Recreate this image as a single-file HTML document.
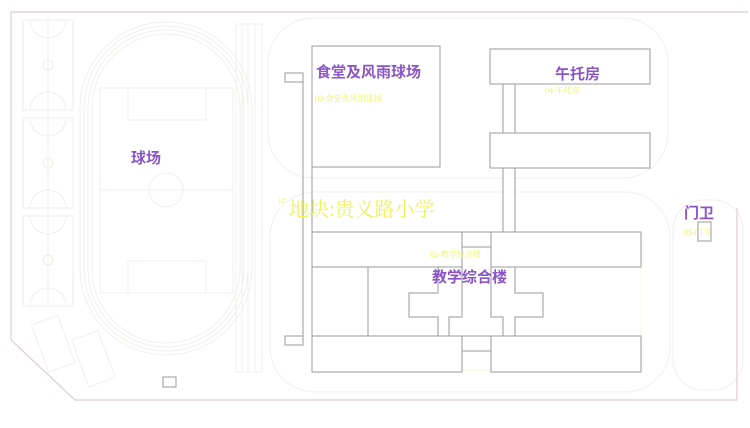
<!DOCTYPE html>
<html><head><meta charset="utf-8"><style>
body{margin:0;background:#fff;width:750px;height:428px;overflow:hidden}
svg{display:block}
.p{font-family:"Liberation Sans","Noto Sans CJK SC",sans-serif;font-weight:bold;fill:#8b55c8}
.y{font-family:"Liberation Serif","Noto Serif CJK SC",serif;fill:#eef25a}
</style></head><body>
<svg width="750" height="428" viewBox="0 0 750 428" xmlns="http://www.w3.org/2000/svg">
<g fill="none" stroke="#efede8" stroke-width="1">
<!-- basketball courts -->
<rect x="23" y="20" width="50" height="90"/><rect x="23" y="118" width="50" height="90"/><rect x="23" y="216" width="50" height="90"/>
<line x1="48" y1="20" x2="48" y2="306"/>
<circle cx="48" cy="65" r="5"/><circle cx="48" cy="163" r="5"/><circle cx="48" cy="260" r="5"/>
<path d="M30 20 a18 18 0 0 0 36 0 M30 110 a18 18 0 0 1 36 0 M30 118 a18 18 0 0 0 36 0 M30 208 a18 18 0 0 1 36 0 M30 216 a18 18 0 0 0 36 0 M30 306 a18 18 0 0 1 36 0"/>
</g>
<g fill="none" stroke="#f1efeb" stroke-width="1">
<!-- track -->
<rect x="80" y="22" width="172" height="333" rx="86"/>
<rect x="84" y="26" width="164" height="325" rx="82"/>
<rect x="88" y="30" width="156" height="317" rx="78"/>
<rect x="92" y="34" width="148" height="309" rx="74"/>
<rect x="100" y="88" width="133" height="205"/>
<line x1="100" y1="190" x2="233" y2="190"/><circle cx="166" cy="190" r="17"/>
<rect x="128" y="88" width="78" height="32"/><rect x="128" y="261" width="78" height="32"/>
<rect x="236" y="24" width="26" height="348"/><line x1="242" y1="24" x2="242" y2="372"/><line x1="248" y1="24" x2="248" y2="372"/><line x1="255" y1="24" x2="255" y2="372"/>
<g transform="rotate(-20 55 340)"><rect x="38" y="318" width="28" height="50"/></g>
<g transform="rotate(-20 92 355)"><rect x="78" y="334" width="28" height="50"/></g>
<!-- roads -->
<rect x="268" y="18" width="400" height="160" rx="45"/>
<rect x="270" y="192" width="400" height="200" rx="45"/>
<rect x="673" y="200" width="70" height="190" rx="30"/>
</g>
<g fill="none" stroke="#fafad8"><rect x="312" y="46" width="128" height="64"/><rect x="312" y="232" width="329" height="138"/></g>
<!-- boundary -->
<path d="M11 12 H748 M11 12 V340 L75 400 H737 V208" fill="none" stroke="#e0ccd4" stroke-width="1.2"/>
<rect x="163" y="377" width="13" height="10" fill="none" stroke="#999"/>
<!-- buildings -->
<g fill="#fff" stroke="#9a9a9a" stroke-width="1">
<line x1="303" y1="73" x2="303" y2="345"/><line x1="312" y1="73" x2="312" y2="345"/>
<rect x="285" y="73" width="18" height="9"/><rect x="285" y="336" width="18" height="9"/>
<rect x="312" y="46" width="128" height="121"/>
<rect x="503" y="84" width="12" height="150"/>
<rect x="490" y="49" width="160" height="35"/>
<rect x="490" y="133" width="160" height="35"/>
<rect x="462" y="232" width="29" height="15"/><rect x="462" y="336" width="29" height="15"/>
<rect x="312" y="267" width="56" height="69"/>
<polygon points="438,267 462,267 462,317 449,317 449,336 438,336 438,317 409,317 409,293 438,293"/>
<polygon points="491,267 515,267 515,293 543,293 543,317 515,317 515,336 503,336 503,317 491,317"/>
<rect x="312" y="232" width="150" height="35"/><rect x="491" y="232" width="150" height="35"/>
<rect x="312" y="336" width="150" height="36"/><rect x="491" y="336" width="150" height="36"/>
<rect x="698" y="222" width="13" height="19"/>
</g>
<!-- labels -->
<text class="p" x="131" y="163" font-size="15">球场</text>
<text class="p" x="316" y="77" font-size="15">食堂及风雨球场</text>
<text class="p" x="555" y="79" font-size="15">午托房</text>
<text class="p" x="432" y="282" font-size="15">教学综合楼</text>
<text class="p" x="684" y="218" font-size="15">门卫</text>
<text class="y" x="315" y="101" font-size="8">03-食堂及风雨球场</text>
<text class="y" x="545" y="93" font-size="8">04-午托房</text>
<text class="y" x="430" y="257" font-size="8">02-教学综合楼</text>
<text class="y" x="684" y="235" font-size="8">05-门卫</text>
<text class="y" x="278" y="203" font-size="7">1#</text>
<text class="y" x="289" y="216" font-size="20">地块:贵义路小学</text>
</svg>
</body></html>
